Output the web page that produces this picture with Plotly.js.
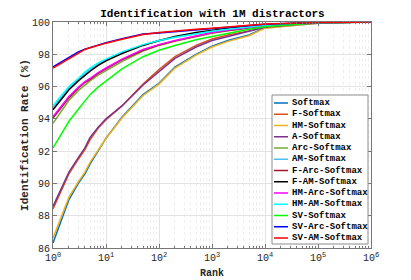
<!DOCTYPE html>
<html><head><meta charset="utf-8">
<script src="https://cdn.plot.ly/plotly-3.0.1.min.js"></script>
<style>html,body{margin:0;padding:0;background:#fff;}#chart{width:411px;height:280px;}</style>
</head><body><div id="chart"></div>
<script>
const ranks = [1,2,3,4,5,7,10,20,50,100,200,500,1000,2000,5000,10000,100000,1000000];
const seriesNames = ["Softmax","F-Softmax","HM-Softmax","A-Softmax","Arc-Softmax","AM-Softmax","F-Arc-Softmax","F-AM-Softmax","HM-Arc-Softmax","HM-AM-Softmax","SV-Softmax","SV-Arc-Softmax","SV-AM-Softmax"];
const softmax     = [86.31,89.0,90.0,90.6,91.2,92.0,92.8,94.1,95.5,96.2,97.2,98.0,98.5,98.85,99.2,99.65,99.93,100];
const fSoftmax    = [88.42,90.6,91.5,92.1,92.7,93.4,93.95,94.8,96.15,97.05,97.85,98.55,98.95,99.2,99.45,99.7,99.95,100];
const hmSoftmax   = [86.62,89.15,90.1,90.7,91.3,92.05,92.8,94.05,95.45,96.15,97.15,97.95,98.45,98.8,99.15,99.62,99.92,100];
const aSoftmax    = [88.58,90.7,91.6,92.2,92.85,93.45,94.0,94.8,96.1,96.95,97.75,98.45,98.85,99.1,99.4,99.67,99.95,100];
const arcSoftmax  = [93.73,95.15,95.75,96.1,96.35,96.7,97.0,97.55,98.2,98.55,98.8,99.1,99.3,99.45,99.62,99.75,99.95,100];
const amSoftmax   = [94.7,95.9,96.45,96.8,97.05,97.38,97.65,98.1,98.58,98.82,99.05,99.28,99.42,99.56,99.7,99.8,99.96,100];
const fArcSoftmax = [94.05,95.3,95.9,96.25,96.45,96.8,97.1,97.65,98.25,98.58,98.83,99.12,99.33,99.48,99.64,99.77,99.95,100];
const fAmSoftmax  = [94.56,95.8,96.35,96.7,96.95,97.3,97.6,98.05,98.55,98.85,99.1,99.35,99.5,99.62,99.75,99.85,99.97,100];
const hmArcSoftmax= [94.14,95.38,95.95,96.3,96.5,96.85,97.15,97.7,98.3,98.6,98.85,99.15,99.35,99.5,99.65,99.78,99.96,100];
const hmAmSoftmax = [94.82,96.0,96.5,96.9,97.14,97.45,97.7,98.15,98.6,98.85,99.05,99.28,99.42,99.55,99.7,99.8,99.96,100];
const svSoftmax   = [92.2,93.85,94.6,95.15,95.5,95.95,96.35,97.1,97.85,98.25,98.55,98.9,99.1,99.3,99.55,99.7,99.95,100];
const svArcSoftmax= [97.22,97.8,98.15,98.32,98.42,98.57,98.72,98.97,99.25,99.32,99.4,99.5,99.58,99.66,99.77,99.86,99.97,100];
const svAmSoftmax = [97.15,97.75,98.1,98.3,98.4,98.55,98.69,98.93,99.22,99.35,99.45,99.55,99.62,99.7,99.8,99.88,99.97,100];
const xTickVals = [1,10,100,1000,10000,100000,1000000];
const xTickText = ["10<sup>0</sup>","10<sup>1</sup>","10<sup>2</sup>","10<sup>3</sup>","10<sup>4</sup>","10<sup>5</sup>","10<sup>6</sup>"];
const yTickVals = [86,88,90,92,94,96,98,100];

const allValues = [softmax,fSoftmax,hmSoftmax,aSoftmax,arcSoftmax,amSoftmax,fArcSoftmax,fAmSoftmax,hmArcSoftmax,hmAmSoftmax,svSoftmax,svArcSoftmax,svAmSoftmax];
const colors = ["#0072BD","#D95319","#EDB120","#7E2F8E","#77AC30","#4DBEEE","#A2142F","#000000","#FF00FF","#00FFFF","#00FF00","#0000FF","#FF0000"];

const FONT = "Liberation Mono, Courier New, monospace";
const W = 411, H = 280, ML = 53, MR = 40, MT = 22, MB = 32;
const PW = W - ML - MR, PH = H - MT - MB;
const px2x = p => (p - ML) / PW;
const px2y = p => (H - MB - p) / PH;

const traces = seriesNames.map((n,i)=>({
  x: ranks, y: allValues[i], name: n, type: "scatter", mode: "lines",
  line: {color: colors[i], width: 1.5}, showlegend: false
}));

// compact legend box (MATLAB style)
const shapes = [{type: "rect", xref: "paper", yref: "paper",
  x0: px2x(272), x1: px2x(368), y0: px2y(244), y1: px2y(95),
  fillcolor: "#fff", line: {color: "#8c8c8c", width: 1}, layer: "above"}];
const annotations = [];
seriesNames.forEach((n,i)=>{
  const cy = 103 + i * 11.25;
  shapes.push({type: "line", xref: "paper", yref: "paper",
    x0: px2x(274), x1: px2x(288), y0: px2y(cy), y1: px2y(cy),
    line: {color: colors[i], width: 1.5}, layer: "above"});
  annotations.push({xref: "paper", yref: "paper", x: px2x(289.5), y: px2y(cy),
    xanchor: "left", yanchor: "middle", showarrow: false, text: "<b>" + n + "</b>",
    font: {family: FONT, size: 9, color: "#000"}});
});

const layout = {
  width: W, height: H,
  margin: {l: ML, r: MR, t: MT, b: MB},
  paper_bgcolor: "#fff", plot_bgcolor: "#fff",
  font: {family: FONT, size: 10, color: "#262626"},
  title: {text: "<b>Identification with 1M distractors</b>", font: {family: FONT, size: 11, color: "#000"}, x: 0.517, xanchor: "center", y: 0.952, yanchor: "middle"},
  xaxis: {
    type: "log", range: [0, 6], tickvals: xTickVals, ticktext: xTickText,
    ticks: "inside", ticklen: 4, tickcolor: "#777",
    showline: true, linecolor: "#777", linewidth: 1, mirror: "ticks",
    showgrid: true, gridcolor: "#e3e3e3", zeroline: false,
    minor: {dtick: "D1", ticks: "inside", ticklen: 2, tickcolor: "#777", showgrid: true, gridcolor: "#eeeeee", griddash: "dot"},
    tickfont: {family: FONT, size: 10, color: "#262626"},
    title: {text: "<b>Rank</b>", font: {family: FONT, size: 10, color: "#262626"}, standoff: 5}
  },
  yaxis: {
    range: [86, 100], tickvals: yTickVals,
    ticks: "inside", ticklen: 4, tickcolor: "#777",
    showline: true, linecolor: "#777", linewidth: 1, mirror: "ticks",
    showgrid: true, gridcolor: "#e3e3e3", zeroline: false,
    tickfont: {family: FONT, size: 10, color: "#262626"},
    title: {text: "<b>Identification Rate (%)</b>", font: {family: FONT, size: 11, color: "#262626"}, standoff: 1}
  },
  shapes: shapes,
  annotations: annotations,
  showlegend: false
};
Plotly.newPlot("chart", traces, layout, {displayModeBar: false, staticPlot: true});
</script>
</body></html>
